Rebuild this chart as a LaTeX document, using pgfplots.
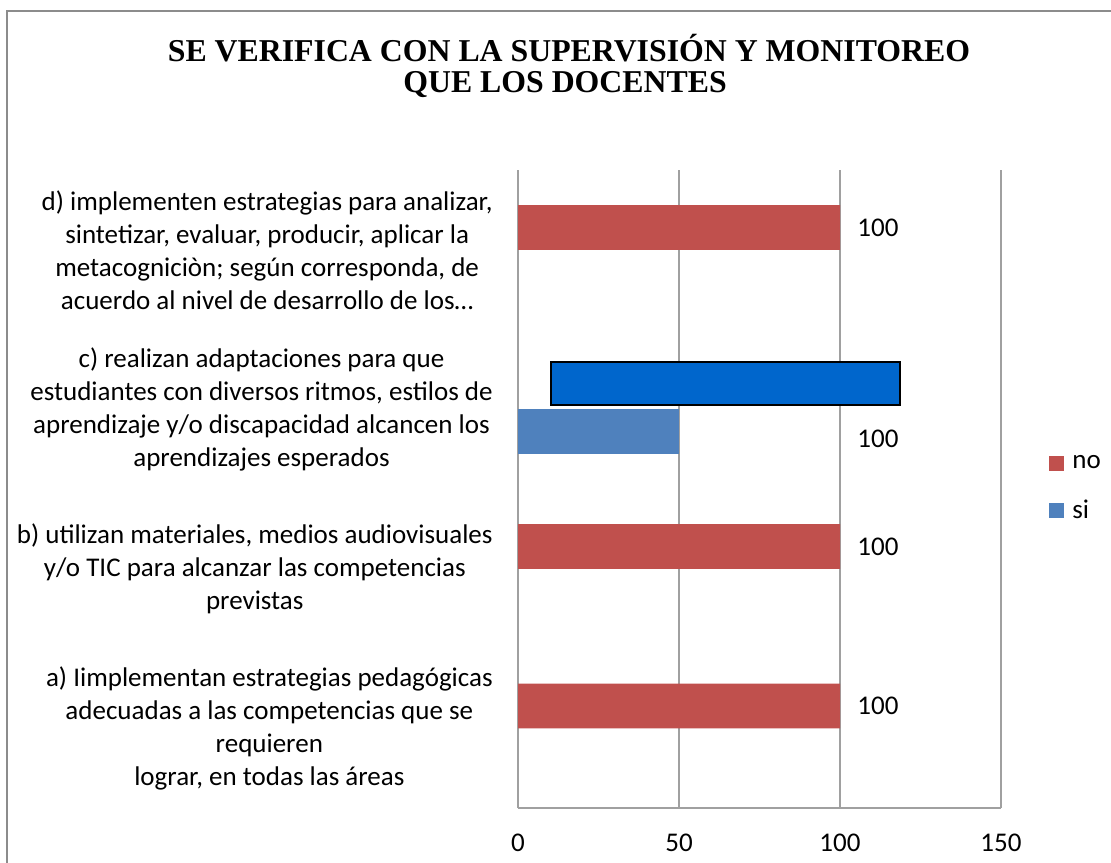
\documentclass[border=0pt]{standalone}
\usepackage{fontspec}
\setmainfont{Carlito}
\newfontfamily\titlefont{Liberation Serif}
\usepackage{pgfplots}
\pgfplotsset{compat=1.18}

\definecolor{norojo}{HTML}{C0504D}
\definecolor{siazul}{HTML}{4F81BD}
\definecolor{cuadro}{HTML}{0066CC}
\definecolor{rejilla}{HTML}{A0A0A0}
\definecolor{marco}{HTML}{8C8C8C}

\begin{document}
\begin{tikzpicture}
\path[use as bounding box] (0,0) rectangle (555.5pt,431pt);
\draw[marco, line width=1pt] (3.5pt,-1pt) -- (3.5pt,425.5pt) -- (556pt,425.5pt);

\node[anchor=base, inner sep=0pt, font=\titlefont\bfseries\fontsize{15.9}{17}\selectfont]
  at (284.5pt,400pt) {SE VERIFICA CON LA SUPERVISIÓN Y MONITOREO};
\node[anchor=base, inner sep=0pt, font=\titlefont\bfseries\fontsize{15.9}{17}\selectfont]
  at (282.5pt,384.5pt) {QUE LOS DOCENTES};

\begin{axis}[
    at={(259pt,27pt)}, anchor=south west,
    scale only axis,
    width=241.5pt, height=319pt,
    xmin=0, xmax=150, ymin=-0.5, ymax=3.5,
    axis x line*=bottom, axis y line*=left,
    axis line style={rejilla, line width=0.8pt, -},
    xtick={0,50,100,150},
    ytick={0,1,2,3},
    yticklabels={
      {a) Iimplementan estrategias pedagógicas\\adecuadas a las competencias que se\\requieren\\lograr, en todas las áreas},
      {b) utilizan materiales, medios audiovisuales\\y/o TIC para alcanzar las competencias\\previstas},
      {c) realizan adaptaciones para que\\estudiantes con diversos ritmos, estilos de\\aprendizaje y/o discapacidad alcancen los\\aprendizajes esperados},
      {d) implementen estrategias para analizar,\\sintetizar, evaluar, producir, aplicar la\\metacogniciòn; según corresponda, de\\acuerdo al nivel de desarrollo de los…}},
    major tick length=0pt,
    xmajorgrids,
    major grid style={rejilla, line width=0.8pt},
    tick label style={font=\fontsize{13.5}{16.5}\selectfont},
    /pgf/number format/assume math mode=true,
    xticklabel style={anchor=center, yshift=-17.5pt},
    yticklabel style={anchor=east, align=center, inner sep=0pt, xshift=-12.5pt},
    legend style={draw=none, fill=none, at={(1.0994,0.5008)}, anchor=west,
      inner sep=0pt, row sep=12pt,
      font=\fontsize{13.5}{16.5}\selectfont,
      nodes={inner sep=1pt, anchor=west},
      /tikz/every odd column/.append style={column sep=3pt}},
    legend image code/.code={\fill[#1] (0pt,-3.75pt) rectangle (7.5pt,3.75pt);},
    legend cell align=left,
    every node near coord/.append style={font=\fontsize{13.5}{16.5}\selectfont,
      anchor=west, inner sep=0pt, xshift=8.5pt},
]
% no
\addplot[xbar, bar width=0.28, bar shift=0.14, fill=norojo, draw=none,
  nodes near coords, every node near coord/.append style={yshift=11.2pt}]
  coordinates {(100,0) (100,1) (100,3)};
\addlegendentry{no}
% si
\addplot[xbar, bar width=0.28, bar shift=-0.14, fill=siazul, draw=none]
  coordinates {(50,2)};
\addlegendentry{si}
% etiqueta suelta de c)
\addplot[draw=none, mark=none, nodes near coords, point meta=x, forget plot]
  coordinates {(100,1.813)};
% rectangulo superpuesto sobre c)
\addplot[fill=cuadro, draw=black, line width=1pt, forget plot]
  coordinates {(10.25,2.027) (118.6,2.027) (118.6,2.296) (10.25,2.296)} -- cycle;
\end{axis}
\end{tikzpicture}
\end{document}
